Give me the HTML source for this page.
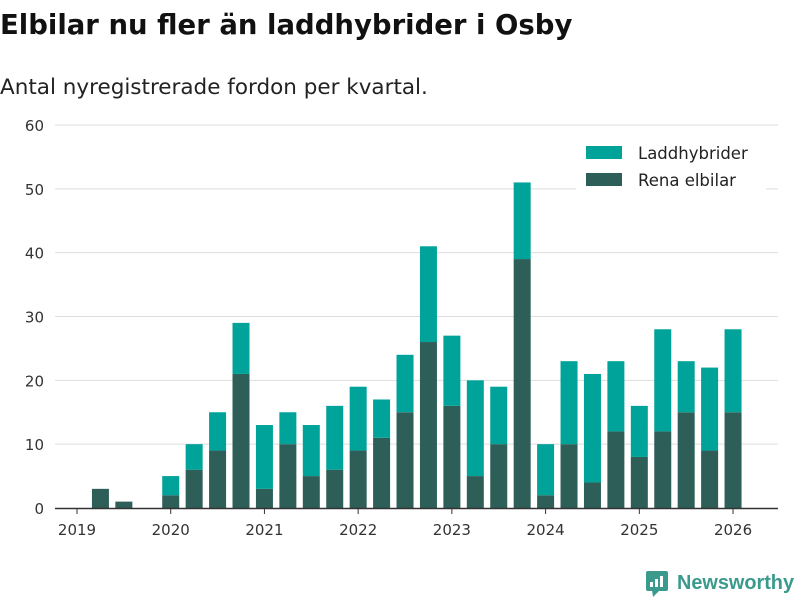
<!DOCTYPE html>
<html><head><meta charset="utf-8"><style>
body{margin:0;width:800px;height:600px;background:#fff;font-family:"DejaVu Sans","Liberation Sans",sans-serif;overflow:hidden}
</style></head><body>
<svg width="800" height="600">
<text x="0" y="34" font-size="27.5" font-weight="bold" fill="#111">Elbilar nu fler än laddhybrider i Osby</text>
<text x="0" y="94" font-size="21.5" fill="#222">Antal nyregistrerade fordon per kvartal.</text>
<g id="grid"></g><g id="bars"></g><g id="xaxis"></g>
<g>
<rect x="576" y="140" width="190" height="50" fill="#fff"/>
<rect x="586" y="146" width="36" height="13" fill="#00a399"/>
<text x="638" y="159" font-size="16.5" fill="#222">Laddhybrider</text>
<rect x="586" y="173" width="36" height="13" fill="#2e5e58"/>
<text x="638" y="186" font-size="16.5" fill="#222">Rena elbilar</text>
</g>
<g>
<rect x="646" y="571" width="22" height="20" rx="2" fill="#3a9a8c"/>
<polygon points="652,590 660,590 653,597" fill="#3a9a8c"/>
<rect x="650" y="582" width="3" height="5" fill="#fff"/><rect x="655" y="579" width="3" height="8" fill="#fff"/><rect x="660" y="576" width="3" height="11" fill="#fff"/>
<text x="677" y="589" font-size="20" font-weight="bold" fill="#3a9a8c" font-family="Liberation Sans, sans-serif" textLength="117" lengthAdjust="spacingAndGlyphs">Newsworthy</text>
</g>
</svg>
<script>
const categories=["2019Q1","2019Q2","2019Q3","2019Q4","2020Q1","2020Q2","2020Q3","2020Q4","2021Q1","2021Q2","2021Q3","2021Q4","2022Q1","2022Q2","2022Q3","2022Q4","2023Q1","2023Q2","2023Q3","2023Q4","2024Q1","2024Q2","2024Q3","2024Q4","2025Q1","2025Q2","2025Q3","2025Q4","2026Q1"];
const elbilar=[0,3,1,0,2,6,9,21,3,10,5,6,9,11,15,26,16,5,10,39,2,10,4,12,8,12,15,9,15];
const laddhybrider=[0,0,0,0,3,4,6,8,10,5,8,10,10,6,9,15,11,15,9,12,8,13,17,11,8,16,8,13,13];
const yTicks=[0,10,20,30,40,50,60];
const yearLabels=["2019","2020","2021","2022","2023","2024","2025","2026"];
const NS="http://www.w3.org/2000/svg";
const y=v=>508-v*(383/60);
const x=i=>77+i*23.43;
function mk(p,t,a){const e=document.createElementNS(NS,t);for(const k in a)e.setAttribute(k,a[k]);document.getElementById(p).appendChild(e);return e;}
yTicks.forEach(t=>{
  if(t>0){const l=mk("grid","line",{x1:55,x2:778,y1:y(t),y2:y(t),stroke:"#ddd"});
  
  }
  const tx=mk("grid","text",{x:44,y:y(t)+6,"font-size":15,fill:"#333","text-anchor":"end"});tx.textContent=t;
  
  
});
categories.forEach((c,i)=>{
  const e=elbilar[i],h=laddhybrider[i];
  if(e>0){const r=mk("bars","rect",{x:x(i)-8.5,y:y(e),width:17,height:y(0)-y(e),fill:"#2e5e58"});
  
  }
  if(h>0){const r=mk("bars","rect",{x:x(i)-8.5,y:y(e+h),width:17,height:y(e)-y(e+h),fill:"#00a399"});
  
  }
});
const ax=mk("xaxis","line",{x1:55,x2:778,y1:508.5,y2:508.5,stroke:"#333","stroke-width":1.5});


yearLabels.forEach((yr,k)=>{
  const i=k*4;
  mk("xaxis","line",{x1:x(i),x2:x(i),y1:508,y2:514,stroke:"#333"});
  const t=mk("xaxis","text",{x:x(i),y:535,"font-size":15,fill:"#333","text-anchor":"middle"});t.textContent=yr;
  
  
});
</script>
</body></html>
